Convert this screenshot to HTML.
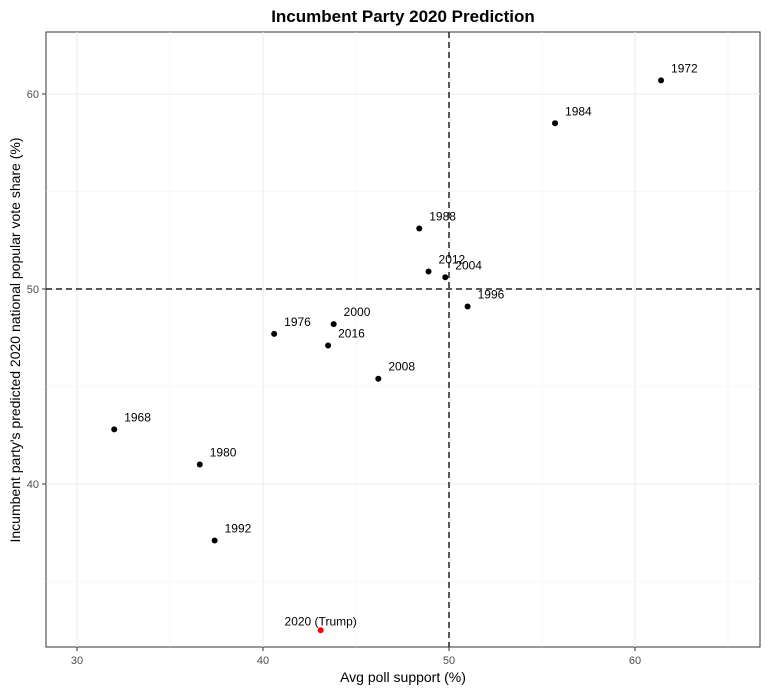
<!DOCTYPE html>
<html><head><meta charset="utf-8"><style>
body{margin:0;background:#fff;font-family:"Liberation Sans",Arial,sans-serif}
</style></head><body>
<svg width="768" height="691" viewBox="0 0 768 691" xmlns="http://www.w3.org/2000/svg">
<text x="403" y="22" text-anchor="middle" font-size="17" font-weight="bold" fill="#000">Incumbent Party 2020 Prediction</text>
<rect x="46" y="32" width="714" height="615" fill="#fff" stroke="#333" stroke-width="1"/>
<g id="grid"></g>
<g id="ref"></g>
<g id="pts"></g>
<g id="axes"></g>
<text x="403" y="682" text-anchor="middle" font-size="14" fill="#000">Avg poll support (%)</text>
<text transform="translate(20,340) rotate(-90)" text-anchor="middle" font-size="14" fill="#000">Incumbent party's predicted 2020 national popular vote share (%)</text>
</svg>
<script>
const years=["1972","1984","1988","2012","2004","1996","2000","1976","2016","2008","1968","1980","1992","2020 (Trump)"];
const pollSupport=[61.4,55.7,48.4,48.9,49.8,51.0,43.8,40.6,43.5,46.2,32.0,36.6,37.4,43.1];
const voteShare=[60.7,58.5,53.1,50.9,50.6,49.1,48.2,47.7,47.1,45.4,42.8,41.0,37.1,32.5];
const xTicks=[30,40,50,60];
const yTicks=[40,50,60];
const xMinor=[35,45,55,65];
const yMinor=[35,45,55];
const NS="http://www.w3.org/2000/svg";
const xs=v=>77+(v-30)*18.6;
const ys=v=>289-(v-50)*19.5;
function mk(tag,attrs,parent){const e=document.createElementNS(NS,tag);for(const k in attrs)e.setAttribute(k,attrs[k]);parent.appendChild(e);return e;}
const grid=document.getElementById('grid'),ref=document.getElementById('ref'),pts=document.getElementById('pts'),axes=document.getElementById('axes');
xMinor.forEach(v=>{const l=mk('line',{x1:xs(v),x2:xs(v),y1:32,y2:647,stroke:'#f2f2f2','stroke-width':0.6},grid);

});
yMinor.forEach(v=>{const l=mk('line',{x1:46,x2:760,y1:ys(v),y2:ys(v),stroke:'#f2f2f2','stroke-width':0.6},grid);

});
xTicks.forEach(v=>{const l=mk('line',{x1:xs(v),x2:xs(v),y1:32,y2:647,stroke:'#ebebeb','stroke-width':1.1},grid);


const t=mk('line',{x1:xs(v),x2:xs(v),y1:647,y2:651,stroke:'#333'},axes);


const tx=mk('text',{x:xs(v),y:664,'text-anchor':'middle','font-size':11,fill:'#4d4d4d'},axes);tx.textContent=v;

});
yTicks.forEach(v=>{const l=mk('line',{x1:46,x2:760,y1:ys(v),y2:ys(v),stroke:'#ebebeb','stroke-width':1.1},grid);


const t=mk('line',{x1:42,x2:46,y1:ys(v),y2:ys(v),stroke:'#333'},axes);


const tx=mk('text',{x:39,y:ys(v)+4,'text-anchor':'end','font-size':11,fill:'#4d4d4d'},axes);tx.textContent=v;

});
const vl=mk('line',{x1:xs(50),x2:xs(50),y1:32,y2:647,stroke:'#222','stroke-width':1.5,'stroke-dasharray':'6,4'},ref);


const hl=mk('line',{x1:46,x2:760,y1:ys(50),y2:ys(50),stroke:'#222','stroke-width':1.5,'stroke-dasharray':'6,4'},ref);


years.forEach((y,i)=>{const last=i===years.length-1;
const c=mk('circle',{cx:xs(pollSupport[i]),cy:ys(voteShare[i]),r:3,fill:last?'#ff0000':'#000'},pts);


const t=mk('text',last?{x:xs(pollSupport[i]),y:ys(voteShare[i])-5,'text-anchor':'middle','font-size':12}:{x:xs(pollSupport[i])+10,y:ys(voteShare[i])-8,'font-size':12},pts);
t.textContent=y;

});
</script>
</body></html>
